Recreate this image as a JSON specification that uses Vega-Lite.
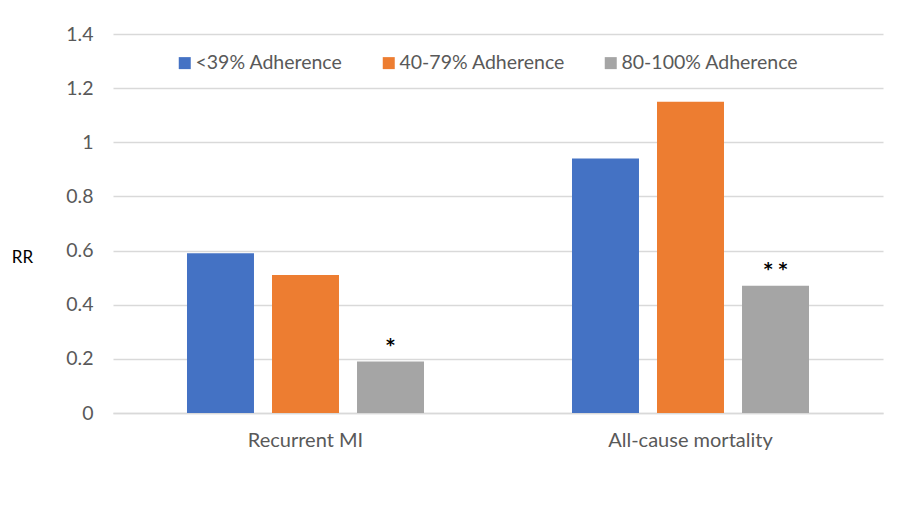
{
  "$schema": "https://vega.github.io/schema/vega-lite/v6.json",
  "width": 770,
  "height": 379,
  "autosize": {"type": "none"},
  "padding": {"left": 113, "top": 34, "right": 14, "bottom": 106},
  "background": "white",
  "config": {
    "font": "Lato",
    "view": {"stroke": null},
    "axis": {"labelFont": "Lato", "titleFont": "Lato"},
    "legend": {"labelFont": "Lato"}
  },
  "data": {
    "values": [
      {"outcome": "Recurrent MI", "group": "<39% Adherence", "rr": 0.59, "sig": ""},
      {"outcome": "Recurrent MI", "group": "40-79% Adherence", "rr": 0.51, "sig": ""},
      {"outcome": "Recurrent MI", "group": "80-100% Adherence", "rr": 0.19, "sig": "*"},
      {"outcome": "All-cause mortality", "group": "<39% Adherence", "rr": 0.94, "sig": ""},
      {"outcome": "All-cause mortality", "group": "40-79% Adherence", "rr": 1.15, "sig": ""},
      {"outcome": "All-cause mortality", "group": "80-100% Adherence", "rr": 0.47, "sig": "* *"}
    ]
  },
  "encoding": {
    "x": {
      "field": "outcome",
      "type": "nominal",
      "sort": ["Recurrent MI", "All-cause mortality"],
      "scale": {"paddingInner": 0.3844, "paddingOuter": 0.1922},
      "axis": {
        "title": null,
        "labelAngle": 0,
        "labelFontSize": 20,
        "labelColor": "#595959",
        "labelPadding": 17,
        "ticks": false,
        "domain": true,
        "domainColor": "#D9D9D9",
        "domainWidth": 1.5
      }
    },
    "xOffset": {
      "field": "group",
      "type": "nominal",
      "sort": ["<39% Adherence", "40-79% Adherence", "80-100% Adherence"],
      "scale": {"paddingInner": 0.212, "paddingOuter": 0}
    },
    "y": {
      "field": "rr",
      "type": "quantitative",
      "scale": {"domain": [0, 1.4], "nice": false},
      "axis": {
        "title": "RR",
        "titleAngle": 0,
        "titleAlign": "center",
        "titleBaseline": "middle",
        "titleX": -91,
        "titleY": 223,
        "titleFontSize": 17,
        "titleFontWeight": "normal",
        "titleColor": "#000000",
        "values": [0, 0.2, 0.4, 0.6, 0.8, 1, 1.2, 1.4],
        "format": "~g",
        "labelFontSize": 19.5,
        "labelColor": "#595959",
        "labelPadding": 20,
        "ticks": false,
        "domain": false,
        "grid": true,
        "gridColor": "#D9D9D9",
        "gridWidth": 1.5
      }
    }
  },
  "layer": [
    {
      "mark": {"type": "bar"},
      "encoding": {
        "color": {
          "field": "group",
          "type": "nominal",
          "sort": ["<39% Adherence", "40-79% Adherence", "80-100% Adherence"],
          "scale": {
            "domain": ["<39% Adherence", "40-79% Adherence", "80-100% Adherence"],
            "range": ["#4472C4", "#ED7D31", "#A5A5A5"]
          },
          "legend": {
            "title": null,
            "orient": "none",
            "direction": "horizontal",
            "legendX": 62,
            "legendY": 19,
            "padding": 0,
            "symbolType": "square",
            "symbolSize": 144,
            "symbolStrokeWidth": 0,
            "symbolOpacity": 1,
            "labelFontSize": 19.5,
            "labelLimit": 400,
            "labelColor": "#595959",
            "labelOffset": 1,
            "columnPadding": 36
          }
        }
      }
    },
    {
      "transform": [{"filter": "datum.sig != ''"}],
      "mark": {
        "type": "text",
        "baseline": "alphabetic",
        "align": "center",
        "dy": -11,
        "font": "DejaVu Sans",
        "fontSize": 17,
        "fontWeight": "bold",
        "color": "#000000"
      },
      "encoding": {
        "text": {"field": "sig"}
      }
    }
  ]
}
